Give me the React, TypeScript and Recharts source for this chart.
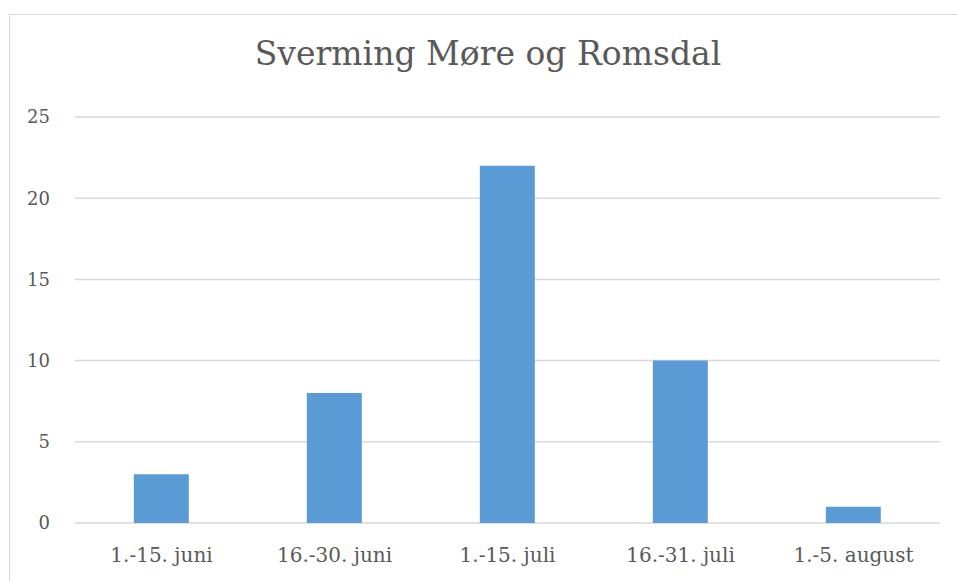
import { BarChart, Bar, XAxis, YAxis, CartesianGrid } from "recharts";

const periods = ["1.-15. juni", "16.-30. juni", "1.-15. juli", "16.-31. juli", "1.-5. august"];
const swarms = [3, 8, 22, 10, 1];
const yTicks = [0, 5, 10, 15, 20, 25];

const data = periods.map((p, i) => ({ period: p, antall: swarms[i] }));

const font = "'Palatino Linotype', 'Book Antiqua', Palatino, 'DejaVu Serif', serif";

export default function App() {
  return (
    <div style={{ position: "absolute", left: 0, top: 0, width: 957, height: 581, overflow: "hidden", background: "#fff" }}>
      {/* chart frame, cut off at right and bottom like the screenshot */}
      <div
        style={{
          position: "absolute",
          left: 9,
          top: 14,
          width: 1000,
          height: 700,
          border: "1px solid #d9d9d9",
        }}
      />
      <div
        style={{
          position: "absolute",
          left: 0,
          width: 976,
          top: 35,
          textAlign: "center",
          fontFamily: font,
          fontSize: 33,
          color: "#595959",
          lineHeight: "38px",
        }}
      >
        Sverming Møre og Romsdal
      </div>
      <div style={{ position: "absolute", left: 0, top: 0 }}>
        <BarChart
          width={957}
          height={581}
          data={data}
          margin={{ top: 117, right: 17, left: 0, bottom: 0 }}
          barCategoryGap="34%"
        >
          <CartesianGrid vertical={false} stroke="#d9d9d9" strokeWidth={1.5} />
          <XAxis
            dataKey="period"
            axisLine={false}
            tickLine={false}
            tickSize={0}
            tickMargin={25}
            height={58}
            interval={0}
            tick={{ fill: "#595959", fontSize: 20, fontFamily: font }}
          />
          <YAxis
            width={75}
            domain={[0, 25]}
            ticks={yTicks}
            axisLine={false}
            tickLine={false}
            tickSize={0}
            tickMargin={25}
            tick={{ fill: "#595959", fontSize: 18, fontFamily: font }}
          />
          <Bar dataKey="antall" fill="#5b9bd5" isAnimationActive={false} />
        </BarChart>
      </div>
    </div>
  );
}
